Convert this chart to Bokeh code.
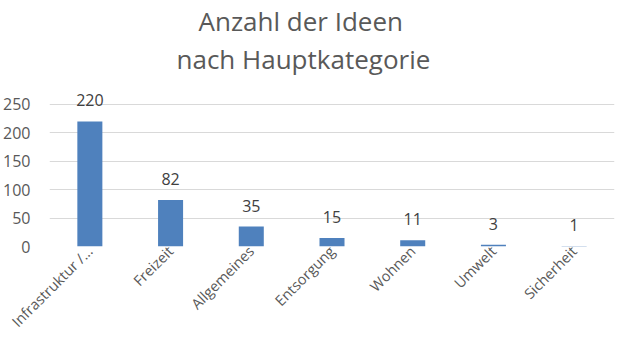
import math
from bokeh.plotting import figure
from bokeh.models import ColumnDataSource, FixedTicker, Range1d, Title
from bokeh.core.properties import value
from bokeh.embed import file_html
from bokeh.resources import INLINE

categories = ["Infrastruktur /...", "Freizeit", "Allgemeines", "Entsorgung", "Wohnen", "Umwelt", "Sicherheit"]
counts = [220, 82, 35, 15, 11, 3, 1]
y_ticks = [0, 50, 100, 150, 200, 250]
title_line1 = "Anzahl der Ideen"
title_line2 = "nach Hauptkategorie"

FONT = "Open Sans"
GREY = "#595959"

src = ColumnDataSource(dict(cat=categories, n=counts, lbl=[str(v) for v in counts]))

p = figure(x_range=categories, y_range=Range1d(0, 299), width=624, height=344,
           output_backend="svg", toolbar_location=None, title=None,
           min_border_left=49, min_border_right=10, min_border_bottom=98, min_border_top=60)

t2 = Title(text=title_line2, align="left", text_font=FONT, text_font_size="26px",
           text_font_style="normal", text_color=GREY, offset=127, standoff=0)
t1 = Title(text=title_line1, align="left", text_font=FONT, text_font_size="26px",
           text_font_style="normal", text_color=GREY, offset=149, standoff=0)
p.add_layout(t2, "above")
p.add_layout(t1, "above")

p.vbar(x="cat", top="n", width=0.31, source=src, fill_color="#4F81BD", line_color=None)
p.text(x="cat", y="n", text="lbl", source=src, text_align="center", text_baseline="alphabetic",
       y_offset=-21, text_font=value(FONT), text_font_size="16px", text_color="#404040")

p.outline_line_color = None
p.xgrid.grid_line_color = None
p.ygrid.grid_line_color = "#d9d9d9"
p.ygrid.grid_line_width = 1

p.yaxis.ticker = FixedTicker(ticks=y_ticks)
p.yaxis.axis_line_color = None
p.yaxis.major_tick_line_color = None
p.yaxis.minor_tick_line_color = None
p.yaxis.major_tick_out = 0
p.yaxis.major_tick_in = 0
p.yaxis.minor_tick_out = 0
p.yaxis.major_label_standoff = 19
p.yaxis.major_label_text_font = FONT
p.yaxis.major_label_text_font_size = "16px"
p.yaxis.major_label_text_color = GREY

p.xaxis.axis_line_color = None
p.xaxis.major_tick_line_color = None
p.xaxis.minor_tick_line_color = None
p.xaxis.major_tick_out = 0
p.xaxis.major_tick_in = 0
p.xaxis.minor_tick_out = 0
p.xaxis.major_label_orientation = math.pi / 4
p.xaxis.major_label_standoff = 2
p.xaxis.major_label_text_font = FONT
p.xaxis.major_label_text_font_size = "14.5px"
p.xaxis.major_label_text_color = GREY

p.background_fill_color = "white"
p.border_fill_color = "white"

open("out.html", "w").write(file_html(p, INLINE))
